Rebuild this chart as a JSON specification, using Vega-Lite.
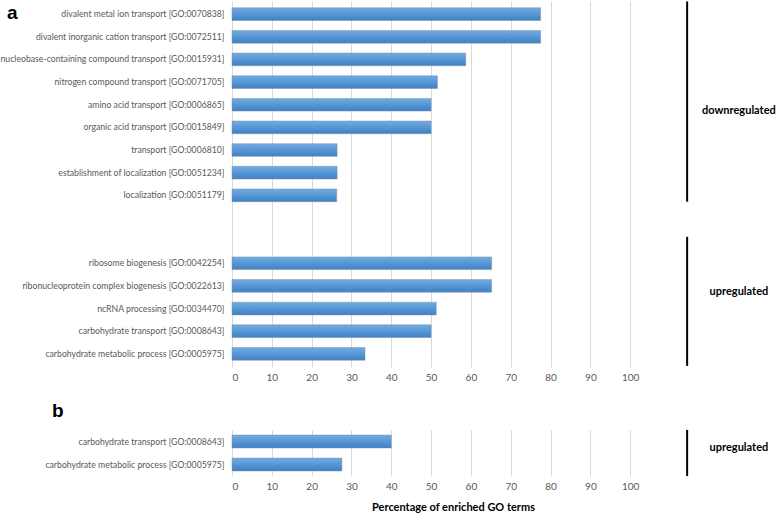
{
  "$schema": "https://vega.github.io/schema/vega-lite/v6.json",
  "padding": {"left": 0, "top": 0, "right": 0, "bottom": 4},
  "background": "white",
  "datasets": {
    "a": [
      {"term": "divalent metal ion transport [GO:0070838]", "pct": 77.5},
      {"term": "divalent inorganic cation transport [GO:0072511]", "pct": 77.5},
      {"term": "nucleobase-containing compound transport [GO:0015931]", "pct": 58.7},
      {"term": "nitrogen compound transport [GO:0071705]", "pct": 51.6},
      {"term": "amino acid transport [GO:0006865]", "pct": 50.0},
      {"term": "organic acid transport [GO:0015849]", "pct": 50.0},
      {"term": "transport [GO:0006810]", "pct": 26.4},
      {"term": "establishment of localization [GO:0051234]", "pct": 26.4},
      {"term": "localization [GO:0051179]", "pct": 26.3},
      {"term": "ribosome biogenesis [GO:0042254]", "pct": 65.2},
      {"term": "ribonucleoprotein complex biogenesis [GO:0022613]", "pct": 65.2},
      {"term": "ncRNA processing [GO:0034470]", "pct": 51.3},
      {"term": "carbohydrate transport [GO:0008643]", "pct": 50.0},
      {"term": "carbohydrate metabolic process [GO:0005975]", "pct": 33.4}
    ],
    "b": [
      {"term": "carbohydrate transport [GO:0008643]", "pct": 40.0},
      {"term": "carbohydrate metabolic process [GO:0005975]", "pct": 27.6}
    ],
    "ga": [
      {"group": "downregulated", "first": "divalent metal ion transport [GO:0070838]", "last": "localization [GO:0051179]", "mid": "amino acid transport [GO:0006865]"},
      {"group": "upregulated", "first": " ", "last": "carbohydrate metabolic process [GO:0005975]", "mid": "ribonucleoprotein complex biogenesis [GO:0022613]"}
    ],
    "gb": [
      {"group": "upregulated", "first": "carbohydrate transport [GO:0008643]", "last": "carbohydrate metabolic process [GO:0005975]", "mid": "carbohydrate transport [GO:0008643]"}
    ]
  },
  "config": {
    "view": {"stroke": null},
    "font": "Lato",
    "axis": {
      "domain": false,
      "ticks": false,
      "labelColor": "#595959",
      "labelFont": "Lato",
      "gridColor": "#d9d9d9",
      "gridWidth": 1
    },
    "title": {"font": "Liberation Sans", "fontSize": 19, "fontWeight": "bold", "color": "#000000", "anchor": "start", "frame": "bounds"}
  },
  "spacing": 19,
  "vconcat": [
    {
      "title": {"text": "a", "offset": -23, "dx": 7},
      "width": 442,
      "height": 366,
      "layer": [
        {
          "data": {"name": "a"},
          "mark": {
            "type": "bar",
            "color": {"gradient": "linear", "x1": 0, "y1": 0, "x2": 0, "y2": 1, "stops": [{"offset": 0, "color": "#72abe0"}, {"offset": 0.5, "color": "#5797d6"}, {"offset": 1, "color": "#3f80c4"}]},
            "stroke": "#7f93ab",
            "strokeWidth": 0.5
          },
          "encoding": {
            "y": {
              "field": "term", "type": "nominal",
              "scale": {
                "domain": [
                  "divalent metal ion transport [GO:0070838]",
                  "divalent inorganic cation transport [GO:0072511]",
                  "nucleobase-containing compound transport [GO:0015931]",
                  "nitrogen compound transport [GO:0071705]",
                  "amino acid transport [GO:0006865]",
                  "organic acid transport [GO:0015849]",
                  "transport [GO:0006810]",
                  "establishment of localization [GO:0051234]",
                  "localization [GO:0051179]",
                  "  ",
                  " ",
                  "ribosome biogenesis [GO:0042254]",
                  "ribonucleoprotein complex biogenesis [GO:0022613]",
                  "ncRNA processing [GO:0034470]",
                  "carbohydrate transport [GO:0008643]",
                  "carbohydrate metabolic process [GO:0005975]"
                ],
                "paddingInner": 0.44,
                "paddingOuter": 0.3
              },
              "axis": {"title": null, "labelFontSize": 8.7, "labelLimit": 300, "labelPadding": 8, "grid": false}
            },
            "x": {
              "field": "pct", "type": "quantitative",
              "scale": {"domain": [0, 111], "nice": false, "zero": true},
              "axis": {"title": null, "values": [0, 10, 20, 30, 40, 50, 60, 70, 80, 90, 100], "labelFontSize": 10, "labelPadding": 5, "grid": true}
            }
          }
        },
        {
          "data": {"name": "ga"},
          "transform": [{"filter": "datum.group === 'downregulated'"}],
          "mark": {"type": "rule", "color": "#000000", "strokeWidth": 2},
          "encoding": {
            "x": {"datum": 114.3, "type": "quantitative"},
            "y": {"field": "first", "type": "nominal", "bandPosition": -0.5},
            "y2": {"field": "last", "bandPosition": 1}
          }
        },
        {
          "data": {"name": "ga"},
          "transform": [{"filter": "datum.group === 'upregulated'"}],
          "mark": {"type": "rule", "color": "#000000", "strokeWidth": 2},
          "encoding": {
            "x": {"datum": 114.3, "type": "quantitative"},
            "y": {"field": "first", "type": "nominal", "bandPosition": 0.2},
            "y2": {"field": "last", "bandPosition": 1.45}
          }
        },
        {
          "data": {"name": "ga"},
          "mark": {"type": "text", "font": "Lato", "fontSize": 11, "fontWeight": "bold", "color": "#000000", "align": "center", "baseline": "middle"},
          "encoding": {
            "x": {"datum": 127.3, "type": "quantitative"},
            "y": {"field": "mid", "type": "nominal", "bandPosition": 1},
            "text": {"field": "group"}
          }
        }
      ]
    },
    {
      "title": {"text": "b", "offset": 8, "dx": 7},
      "width": 442,
      "height": 46,
      "layer": [
        {
          "data": {"name": "b"},
          "mark": {
            "type": "bar",
            "color": {"gradient": "linear", "x1": 0, "y1": 0, "x2": 0, "y2": 1, "stops": [{"offset": 0, "color": "#72abe0"}, {"offset": 0.5, "color": "#5797d6"}, {"offset": 1, "color": "#3f80c4"}]},
            "stroke": "#7f93ab",
            "strokeWidth": 0.5
          },
          "encoding": {
            "y": {
              "field": "term", "type": "nominal",
              "scale": {
                "domain": ["carbohydrate transport [GO:0008643]", "carbohydrate metabolic process [GO:0005975]"],
                "paddingInner": 0.44,
                "paddingOuter": 0.22
              },
              "axis": {"title": null, "labelFontSize": 8.7, "labelLimit": 300, "labelPadding": 8, "grid": false}
            },
            "x": {
              "field": "pct", "type": "quantitative",
              "scale": {"domain": [0, 111], "nice": false, "zero": true},
              "axis": {"title": "Percentage of enriched GO terms", "titleFont": "Lato", "titleFontSize": 11, "titleFontWeight": "bold", "titleColor": "#000000", "titlePadding": 10, "values": [0, 10, 20, 30, 40, 50, 60, 70, 80, 90, 100], "labelFontSize": 10, "labelPadding": 5, "grid": true}
            }
          }
        },
        {
          "data": {"name": "gb"},
          "mark": {"type": "rule", "color": "#000000", "strokeWidth": 2},
          "encoding": {
            "x": {"datum": 114.3, "type": "quantitative"},
            "y": {"field": "first", "type": "nominal", "bandPosition": -0.4},
            "y2": {"field": "last", "bandPosition": 1.4}
          }
        },
        {
          "data": {"name": "gb"},
          "mark": {"type": "text", "font": "Lato", "fontSize": 11, "fontWeight": "bold", "color": "#000000", "align": "center", "baseline": "middle"},
          "encoding": {
            "x": {"datum": 127.3, "type": "quantitative"},
            "y": {"field": "mid", "type": "nominal", "bandPosition": 1},
            "text": {"field": "group"}
          }
        }
      ]
    }
  ]
}
